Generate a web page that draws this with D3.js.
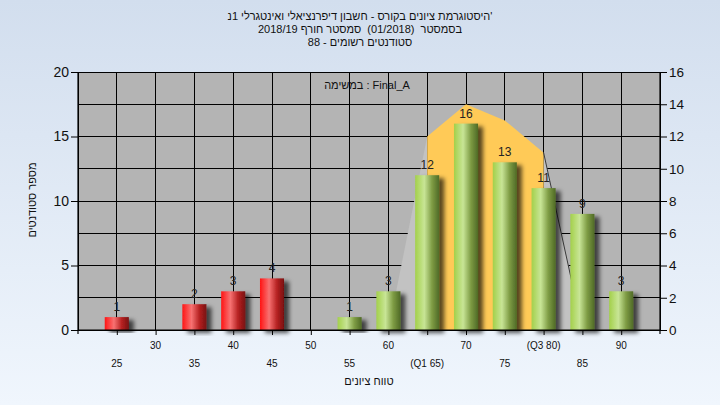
<!DOCTYPE html>
<html>
<head>
<meta charset="utf-8">
<script src="https://cdn.jsdelivr.net/npm/d3@7"></script>
<style>
  html, body { margin: 0; padding: 0; }
  body { width: 720px; height: 405px; overflow: hidden; }
  svg { display: block; font-family: "Liberation Sans", Arial, sans-serif; }
  .pre { white-space: pre; }
</style>
</head>
<body>
<svg id="chart" width="720" height="405"></svg>
<script>
// ---- data ----
const categories = [25, 30, 35, 40, 45, 50, 55, 60, 65, 70, 75, 80, 85, 90];
const counts = [1, 0, 2, 3, 4, 0, 1, 3, 12, 16, 13, 11, 9, 3];
const xTickLabels = ["25", "30", "35", "40", "45", "50", "55", "60", "(Q1 65)", "70", "75", "(Q3 80)", "85", "90"];
const failBelow = 55;
const curveX = [60, 65, 70, 75, 80, 85];
const curveY = [0, 12, 14, 13, 11, 0];
const q1 = 65, q3 = 80;
const leftTicks = [0, 5, 10, 15, 20];
const rightTicks = [0, 2, 4, 6, 8, 10, 12, 14, 16];
const titleLines = [
  "'היסטוגרמת ציונים בקורס - חשבון דיפרנציאלי ואינטגרלי 1נ",
  "בסמסטר  (01/2018)  סמסטר חורף 2018/19",
  "סטודנטים רשומים - 88"
];
const taskLabel = "במשימה : Final_A";
const xTitle = "טווח ציונים";
const yTitle = "מספר סטודנטים";

// ---- layout ----
const L = 78, R = 660, T = 72, B = 330;
const svg = d3.select("#chart");
const defs = svg.append("defs");

const bg = defs.append("linearGradient").attr("id", "bg").attr("x1", 0).attr("y1", 0).attr("x2", 0).attr("y2", 1);
bg.append("stop").attr("offset", "0%").attr("stop-color", "#d2deee");
bg.append("stop").attr("offset", "100%").attr("stop-color", "#f0f6fd");

function cyl(id, c0, c1, c2, c3) {
  const g = defs.append("linearGradient").attr("id", id).attr("x1", 0).attr("y1", 0).attr("x2", 1).attr("y2", 0);
  g.append("stop").attr("offset", "0%").attr("stop-color", c0);
  g.append("stop").attr("offset", "38%").attr("stop-color", c1);
  g.append("stop").attr("offset", "70%").attr("stop-color", c2);
  g.append("stop").attr("offset", "100%").attr("stop-color", c3);
}
cyl("red", "#ff1414", "#f77272", "#b72222", "#781010");
cyl("green", "#a3d04a", "#c8e596", "#7e9c44", "#4f6a26");

const sh = defs.append("filter").attr("id", "shadow").attr("x", "-30%").attr("y", "-10%").attr("width", "180%").attr("height", "130%");
sh.append("feDropShadow").attr("dx", 5).attr("dy", 3).attr("stdDeviation", 2)
  .attr("flood-color", "#000").attr("flood-opacity", 0.65);

svg.append("rect").attr("width", 720).attr("height", 405).attr("fill", "url(#bg)");

const x = d3.scaleLinear().domain([20, 95]).range([L, R]);
const yL = d3.scaleLinear().domain([0, 20]).range([B, T]);
const yR = d3.scaleLinear().domain([0, 16]).range([B, T]);

// plot background
svg.append("rect").attr("x", L).attr("y", T).attr("width", R - L).attr("height", B - T).attr("fill", "#b4b4b4");

// gridlines
const grid = svg.append("g").attr("stroke", "#000").attr("stroke-width", 1).attr("shape-rendering", "crispEdges");
grid.selectAll("line.h").data(rightTicks).join("line")
  .attr("x1", L).attr("x2", R).attr("y1", d => yR(d)).attr("y2", d => yR(d));
grid.selectAll("line.v").data(d3.range(20, 96, 5)).join("line")
  .attr("y1", T).attr("y2", B).attr("x1", d => x(d)).attr("x2", d => x(d));

// normal curve area
const pts = curveX.map((v, i) => [v, curveY[i]]);
const area = d3.area().x(d => x(d[0])).y0(B).y1(d => yR(d[1]));
const inQ = pts.filter(d => d[0] >= q1 && d[0] <= q3);
const leftTail = pts.filter(d => d[0] <= q1);
const rightTail = pts.filter(d => d[0] >= q3);
svg.append("path").datum(leftTail).attr("d", area).attr("fill", "#c2c2c2");
svg.append("path").datum(rightTail).attr("d", area).attr("fill", "#c2c2c2");
svg.append("path").datum(inQ).attr("d", area).attr("fill", "#ffca57");
svg.append("path").datum(rightTail).attr("fill", "none").attr("stroke", "#3a3a3a").attr("stroke-width", 1)
  .attr("d", d3.line().x(d => x(d[0])).y(d => yR(d[1])));

// bars
const bw = x(23.1) - x(20);
const bars = categories.map((c, i) => ({ c, v: counts[i], label: xTickLabels[i], i })).filter(d => d.v > 0);
svg.append("g").selectAll("rect").data(bars).join("rect")
  .attr("x", d => x(d.c) - bw / 2).attr("width", bw)
  .attr("y", d => yL(d.v)).attr("height", d => B - yL(d.v))
  .attr("fill", d => d.c < failBelow ? "url(#red)" : "url(#green)")
  .attr("filter", "url(#shadow)");

svg.append("g").selectAll("text").data(bars).join("text")
  .attr("x", d => x(d.c)).attr("y", d => yL(d.v) - 6)
  .attr("text-anchor", "middle").attr("font-size", 12).attr("fill", "#222")
  .text(d => d.v);

// axes
const axL = svg.append("g").attr("transform", `translate(${L},0)`)
  .call(d3.axisLeft(yL).tickValues(leftTicks).tickSize(7).tickPadding(2));
axL.selectAll("text").attr("font-size", 14).attr("fill", "#111").attr("font-family", "Liberation Sans, Arial, sans-serif");
const axR = svg.append("g").attr("transform", `translate(${R},0)`)
  .call(d3.axisRight(yR).tickValues(rightTicks).tickSize(7).tickPadding(2));
axR.selectAll("text").attr("font-size", 13.5).attr("fill", "#111").attr("font-family", "Liberation Sans, Arial, sans-serif");
const axB = svg.append("g").attr("transform", `translate(0,${B})`)
  .call(d3.axisBottom(x).tickValues(categories).tickSize(5).tickFormat(""));
[axL, axR, axB].forEach(a => {
  a.select(".domain").attr("stroke", "#000").attr("stroke-width", 1.2);
  a.selectAll(".tick line").attr("stroke", "#000");
});
axL.select(".domain").attr("d", `M0,${T}V${B + 4}`);
axR.select(".domain").attr("d", `M0,${T}V${B + 4}`);
axB.select(".domain").attr("d", `M${L},0H${R}`);

// x tick labels, staggered
svg.append("g").selectAll("text").data(categories).join("text")
  .attr("x", d => x(d)).attr("y", (d, i) => i % 2 === 1 ? 349 : 367)
  .attr("text-anchor", "middle").attr("font-size", 10).attr("fill", "#111")
  .text((d, i) => xTickLabels[i]);

// titles
svg.append("g").selectAll("text").data(titleLines).join("text")
  .attr("class", "pre")
  .attr("x", 360).attr("y", (d, i) => 20 + i * 13)
  .attr("text-anchor", "middle").attr("direction", "rtl").attr("unicode-bidi", "plaintext")
  .attr("font-size", 11).attr("fill", "#111")
  .text(d => d);
svg.append("text").attr("x", 367).attr("y", 89).attr("text-anchor", "middle")
  .attr("font-size", 11).attr("fill", "#111").text(taskLabel);
svg.append("text").attr("x", 369).attr("y", 385).attr("text-anchor", "middle")
  .attr("font-size", 11).attr("fill", "#111").text(xTitle);
svg.append("text").attr("transform", "translate(36,200) rotate(-90)").attr("text-anchor", "middle")
  .attr("font-size", 11).attr("fill", "#111").text(yTitle);
</script>
</body>
</html>
